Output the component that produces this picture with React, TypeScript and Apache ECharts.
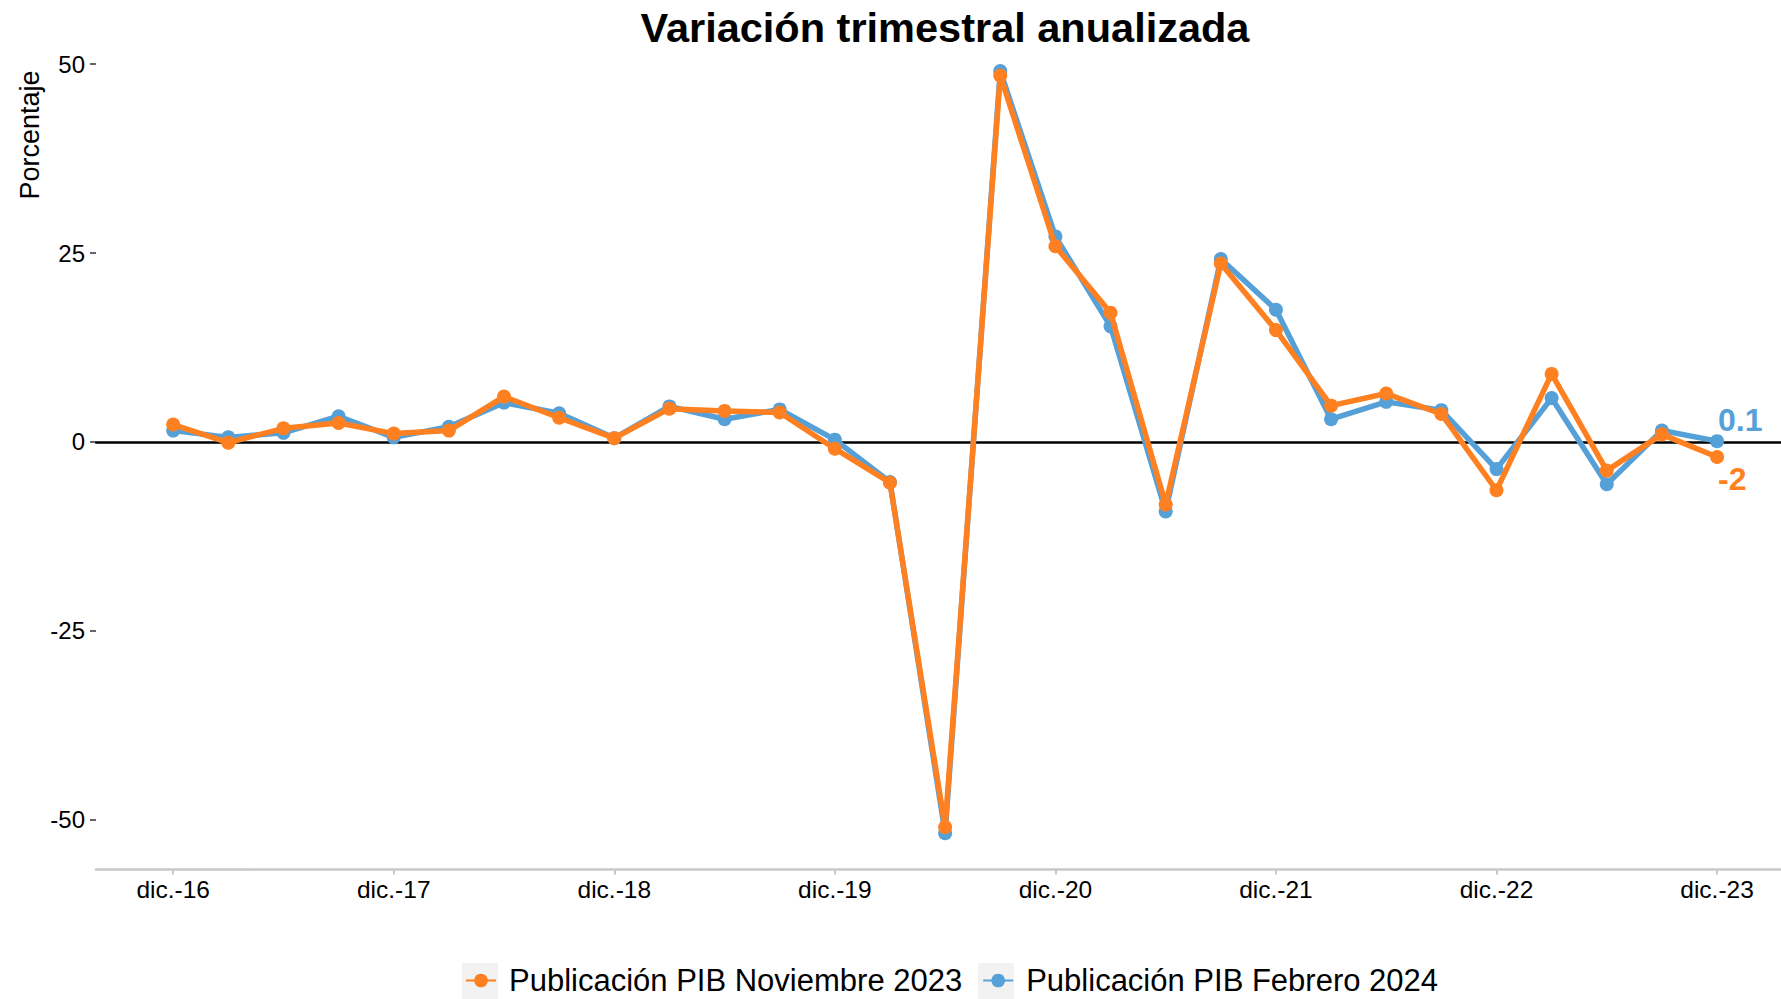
import React, { useEffect, useRef } from "react";
import * as echarts from "echarts";

const tickLabels = ["dic.-16", "dic.-17", "dic.-18", "dic.-19", "dic.-20", "dic.-21", "dic.-22", "dic.-23"];
const tickPositions = [0, 4, 8, 12, 16, 20, 24, 28];
const yTicks = [-50, -25, 0, 25, 50];

const seriesNov2023 = [2.3, -0.1, 1.8, 2.5, 1.1, 1.5, 6.0, 3.2, 0.5, 4.4, 4.1, 3.9, -0.9, -5.4, -51.0, 48.5, 25.9, 17.1, -8.3, 23.6, 14.8, 4.8, 6.4, 3.7, -6.4, 9.0, -3.8, 1.0, -2.0];
const seriesFeb2024 = [1.5, 0.6, 1.2, 3.4, 0.6, 2.0, 5.2, 3.8, 0.5, 4.7, 3.0, 4.3, 0.3, -5.3, -51.8, 49.1, 27.2, 15.3, -9.2, 24.2, 17.5, 3.0, 5.3, 4.2, -3.6, 5.8, -5.6, 1.5, 0.1];

const nameNov = "Publicación PIB Noviembre 2023";
const nameFeb = "Publicación PIB Febrero 2024";

const ORANGE = "#FF8020";
const BLUE = "#56A0D8";
const FONT = "'Liberation Sans', Arial, sans-serif";

function buildData(values: number[], color: string, labelDy: number, labelText: string) {
  return values.map((v, i) => {
    if (i === values.length - 1) {
      return {
        value: [i, v],
        label: {
          show: true,
          position: [8, labelDy],
          align: "left",
          verticalAlign: "middle",
          formatter: labelText,
          color,
          fontSize: 32,
          fontWeight: "bold",
          fontFamily: FONT,
        },
      };
    }
    return { value: [i, v] };
  });
}

export default function App() {
  const ref = useRef<HTMLDivElement>(null);
  useEffect(() => {
    if (!ref.current) return;
    const chart = echarts.init(ref.current, undefined, { renderer: "svg" });
    const last = seriesFeb2024.length - 1;
    const option: any = {
      animation: false,
      backgroundColor: "#ffffff",
      title: {
        text: "Variación trimestral anualizada",
        left: 940,
        top: 1,
        textAlign: "center",
        textStyle: { fontSize: 41.5, fontWeight: "bold", color: "#000", fontFamily: FONT },
      },
      graphic: [
        {
          type: "text",
          x: 30,
          y: 135,
          rotation: Math.PI / 2,
          style: {
            text: "Porcentaje",
            fontSize: 27,
            fontFamily: FONT,
            fill: "#000",
            textAlign: "center",
            textVerticalAlign: "middle",
          },
        },
        { type: "rect", shape: { x: 462, y: 963, width: 36, height: 36 }, style: { fill: "#f2f2f2" }, z: 0 },
        { type: "rect", shape: { x: 978, y: 963, width: 36, height: 36 }, style: { fill: "#f2f2f2" }, z: 0 },
      ],
      legend: {
        data: [nameNov, nameFeb],
        left: 465,
        top: 965,
        padding: 0,
        itemWidth: 30,
        itemHeight: 17,
        itemGap: 20,
        textStyle: { fontSize: 31, color: "#000", fontFamily: FONT, padding: [0, 0, 0, 8] },
      },
      grid: { left: 96, right: 0, top: 40, bottom: 129.5, containLabel: false },
      xAxis: [
        {
          type: "value",
          min: -1.4,
          max: 29.16,
          splitLine: { show: false },
          axisLine: { show: true, onZero: false, lineStyle: { color: "#c8c8c8", width: 2.5 } },
          axisTick: { show: true, customValues: tickPositions, length: 5, lineStyle: { color: "#c8c8c8", width: 2 } },
          axisLabel: {
            customValues: tickPositions,
            formatter: (v: number) => tickLabels[tickPositions.indexOf(Math.round(v))] ?? "",
            fontSize: 24.5,
            color: "#000",
            fontFamily: FONT,
            margin: 7,
          },
        },
        {
          type: "value",
          min: -1.4,
          max: 29.16,
          position: "bottom",
          splitLine: { show: false },
          axisLine: { show: true, onZero: true, lineStyle: { color: "#000", width: 2.5 } },
          axisTick: { show: false },
          axisLabel: { show: false },
        },
      ],
      yAxis: {
        type: "value",
        min: -56.6,
        max: 53.2,
        splitLine: { show: false },
        axisLine: { show: false, onZero: false },
        axisTick: { show: true, customValues: yTicks, length: 6, lineStyle: { color: "#333", width: 1.5 } },
        axisLabel: {
          customValues: yTicks,
          fontSize: 24,
          color: "#000",
          fontFamily: FONT,
          margin: 11,
        },
      },
      series: [
        {
          name: nameFeb,
          type: "line",
          xAxisIndex: 0,
          data: buildData(seriesFeb2024, BLUE, -14.5, String(seriesFeb2024[last])),
          symbol: "circle",
          symbolSize: 14,
          lineStyle: { color: BLUE, width: 5.5 },
          itemStyle: { color: BLUE },
          z: 2,
        },
        {
          name: nameNov,
          type: "line",
          xAxisIndex: 0,
          data: buildData(seriesNov2023, ORANGE, 29, String(seriesNov2023[last])),
          symbol: "circle",
          symbolSize: 14,
          lineStyle: { color: ORANGE, width: 5.5 },
          itemStyle: { color: ORANGE },
          z: 3,
        },
      ],
    };
    chart.setOption(option);
    return () => chart.dispose();
  }, []);
  return (
    <div
      ref={ref}
      style={{ position: "fixed", left: 0, top: 0, width: 1781, height: 999, background: "#fff" }}
    />
  );
}
